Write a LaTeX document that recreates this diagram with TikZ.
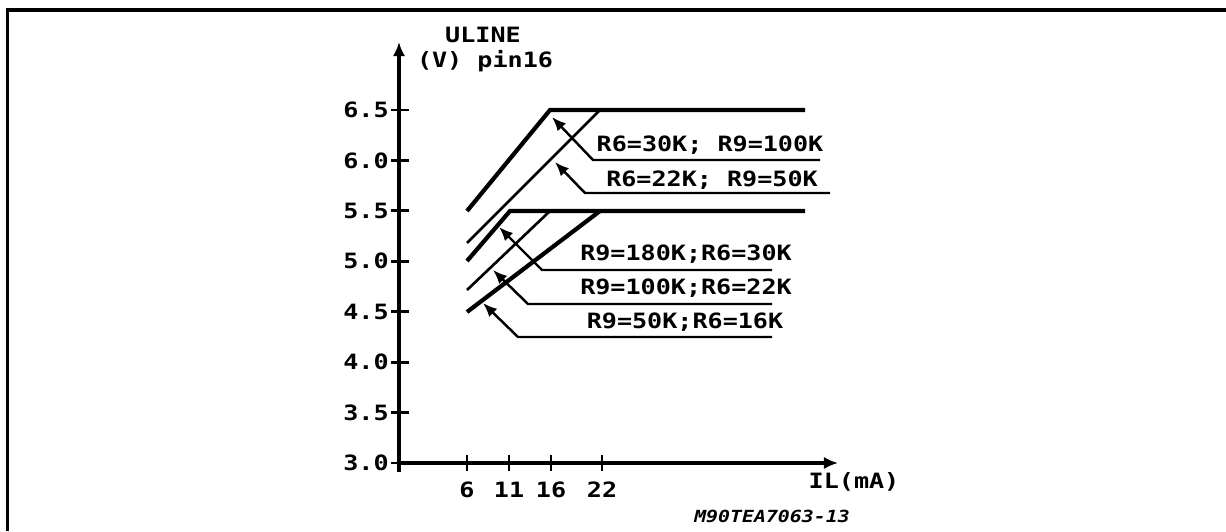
\documentclass[tikz,border=0pt]{standalone}
\usepackage{fontspec}
\newfontfamily\plotfont[FakeStretch=1.19]{DejaVu Sans Mono}
\usetikzlibrary{arrows.meta}

\begin{document}
\begin{tikzpicture}[x=0.02cm,y=-0.02cm,
  txt/.style={font=\plotfont\bfseries\fontsize{12pt}{12pt}\selectfont,inner sep=0pt},
  crv/.style={line width=2.4pt},
  thin crv/.style={line width=1.5pt},
  lead/.style={line width=1.4pt,-{Latex[length=8pt,width=6.5pt]}}]
  \useasboundingbox (0,0) rectangle (1226,531);

  % frame
  \draw[line width=2pt] (7.5,531) -- (7.5,10) -- (1226,10);

  % axes
  \draw[line width=2pt,-{Latex[length=8pt,width=7pt]}] (399,472) -- (399,42);
  \draw[line width=2pt,-{Latex[length=8pt,width=7pt]}] (399,463) -- (838,463);
  \node[txt] (ytitle) at (483,35) {ULINE};
  \node[txt] (yunit) at (485,61) {(V) pin16};
  \node[txt] (xtitle) at (854,482) {IL(mA)};

  \foreach \i/\lab in {0/6.5,1/6.0,2/5.5,3/5.0,4/4.5,5/4.0,6/3.5,7/3.0}{
    \draw[line width=1.6pt] (391,110+\i*50.43) -- (409,110+\i*50.43);
    \node[txt,anchor=east] (ylab\i) at (389,110+\i*50.43) {\lab};
  }
  \foreach \xx/\lab in {467/6,509/11,551/16,602/22}{
    \draw[line width=1.6pt] (\xx,455) -- (\xx,471);
    \node[txt] (xlab\lab) at (\xx,490) {\lab};
  }

  % curves
  \draw[crv] (467,211) -- (550,110) -- (805,110);
  \draw[thin crv] (467,243) -- (600,110);
  \draw[crv] (467,261) -- (510,211) -- (805,211);
  \draw[thin crv] (467,290) -- (550,211);
  \draw[crv] (467,312) -- (600,211);

  % labels with leaders
  \coordinate (tip1) at (552,117);
  \coordinate (tip2) at (555,162);
  \coordinate (tip3) at (499,227);
  \coordinate (tip4) at (493,270);
  \coordinate (tip5) at (483,303);

  \node[txt] (lab1) at (710,145) {R6=30K; R9=100K};
  \node[txt] (lab2) at (712,180) {R6=22K; R9=50K};
  \node[txt] (lab3) at (686,254) {R9=180K;R6=30K};
  \node[txt] (lab4) at (686,288) {R9=100K;R6=22K};
  \node[txt] (lab5) at (685,322) {R9=50K;R6=16K};

  \draw[lead] (820,160) -- (593,160) -- (tip1);
  \draw[lead] (830,193) -- (585,193) -- (tip2);
  \draw[lead] (772,270) -- (542,270) -- (tip3);
  \draw[lead] (772,304) -- (528,304) -- (tip4);
  \draw[lead] (772,337) -- (518,337) -- (tip5);

  \node[txt,font=\plotfont\bfseries\itshape\fontsize{9.5pt}{9.5pt}\selectfont] (code) at (772,516) {M90TEA7063-13};
\end{tikzpicture}
\end{document}
